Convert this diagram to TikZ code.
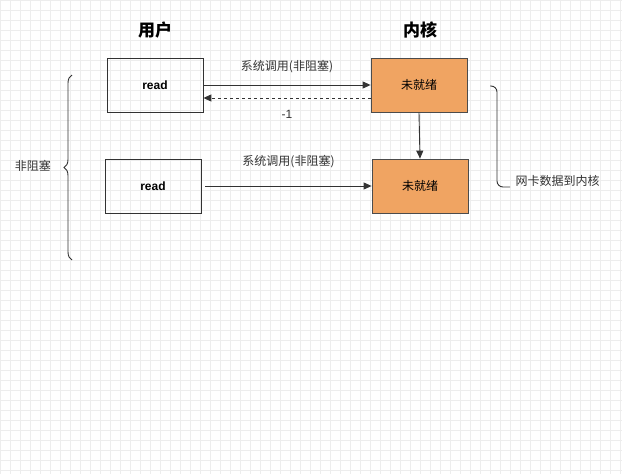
\documentclass[tikz,border=0pt]{standalone}
\usepackage{fontspec}
\setmainfont{Liberation Sans}
\newfontfamily\cjk{Noto Sans CJK SC}
\usetikzlibrary{arrows.meta,decorations.pathreplacing}
\begin{document}
\begin{tikzpicture}[x=1pt,y=-1pt,
  box/.style={draw=black!80,line width=0.8pt,minimum width=96pt,minimum height=54pt,inner sep=0pt,font=\bfseries\fontsize{12}{14}\selectfont},
  kbox/.style={box,fill={rgb,255:red,240;green,164;blue,98},draw=black!70,font=\cjk\fontsize{12}{14}\selectfont},
  arr/.style={-{Triangle[length=8pt,width=7pt]},line width=0.9pt,draw=black!80},
  lbl/.style={font=\cjk\fontsize{12}{14}\selectfont,text=black!80}]
\useasboundingbox (0,0) rectangle (622,474);
\fill[white] (0,0) rectangle (622,474);
\foreach \i in {0,10,...,620} \draw[black!7,line width=0.5pt] (\i,0) -- (\i,474);
\foreach \i in {0,10,...,470} \draw[black!7,line width=0.5pt] (0,\i) -- (622,\i);
\node[font=\cjk\bfseries\fontsize{17}{20}\selectfont] (tu) at (155,30) {用户};
\node[font=\cjk\bfseries\fontsize{17}{20}\selectfont] (tk) at (420,30) {内核};
\node[box] (r1) at (155,85) {read};
\node[kbox] (k1) at (419,85) {未就绪};
\node[box] (r2) at (153,186) {read};
\node[kbox] (k2) at (420,186) {未就绪};
\draw[arr] (r1.east) -- (k1.west) node[lbl,midway,above=8pt] {系统调用(非阻塞)};
\draw[arr,dashed] ([yshift=-13pt]k1.west) -- ([yshift=-13pt]r1.east) node[lbl,midway,below=8pt,font=\fontsize{12}{14}\selectfont] {-1};
\draw[arr] (k1.south) -- (k2.north);
\draw[arr] ([xshift=4pt]r2.east) -- (k2.west) node[lbl,midway,above=14pt] {系统调用(非阻塞)};
\coordinate (b1) at (72,75); \coordinate (b2) at (72,260);
\draw[line width=0.9pt,black!80,decorate,decoration={brace,amplitude=8pt}] (b2) -- (b1);
\node[lbl] (nb) at (33,166) {非阻塞};
\coordinate (c1) at (490,86); \coordinate (c2) at (510,187);
\draw[line width=0.9pt,black!80,rounded corners=6pt] (c1) -- (497,86) -- (497,187) -- (c2);
\node[lbl,anchor=west] (nk) at (512,181) {网卡数据到内核};
\end{tikzpicture}
\end{document}
